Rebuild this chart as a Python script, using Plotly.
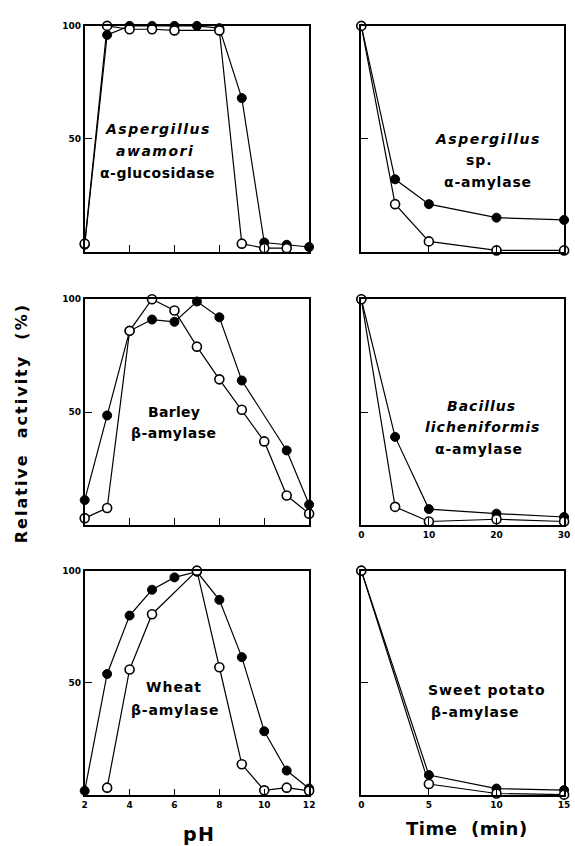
import plotly.graph_objects as go

W, H = 575, 846

# ---------------- data ----------------
# Panel A: Aspergillus awamori alpha-glucosidase (pH)
gluc_filled_ph = [2, 3, 4, 5, 6, 7, 8, 9, 10, 11, 12]
gluc_filled = [3, 96, 100, 100, 100, 100, 99, 68, 4, 3, 2]
gluc_open_ph = [2, 3, 4, 5, 6, 8, 9, 10, 11]
gluc_open = [3.5, 100, 98.5, 98.5, 98, 98, 3.5, 1.5, 1.5]

# Panel C: Barley beta-amylase (pH)
barley_filled_ph = [2, 3, 4, 5, 6, 7, 8, 9, 11, 12]
barley_filled = [11, 48.5, 86, 91, 90, 99, 92, 64, 33, 9]
barley_open_ph = [2, 3, 4, 5, 6, 7, 8, 9, 10, 11, 12]
barley_open = [3, 7.5, 86, 100, 95, 79, 64.5, 51, 37, 13, 5]

# Panel E: Wheat beta-amylase (pH)
wheat_filled_ph = [2, 3, 4, 5, 6, 7, 8, 9, 10, 11, 12]
wheat_filled = [2, 54, 80, 91.5, 97, 99.5, 87, 61.5, 28.5, 11, 3]
wheat_open_ph = [3, 4, 5, 7, 8, 9, 10, 11, 12]
wheat_open = [3.4, 56, 80.6, 100, 57, 13.8, 2.2, 3.4, 2]

# Panel B: Aspergillus sp. alpha-amylase (time)
asp_t = [0, 5, 10, 20, 30]
asp_filled = [100, 32, 21, 15, 14]
asp_open = [100, 21, 4.5, 0.5, 0.5]

# Panel D: Bacillus licheniformis alpha-amylase (time)
bac_t = [0, 5, 10, 20, 30]
bac_filled = [100, 39, 7, 5, 3.5]
bac_open = [100, 8, 1.5, 2.5, 1.5]

# Panel F: Sweet potato beta-amylase (time)
sp_t = [0, 5, 10, 15]
sp_filled = [100, 9, 3, 2.3]
sp_open = [100, 5, 0.8, 0.3]

ph_ticks = [2, 4, 6, 8, 10, 12]
y_ticks_left = [50, 100]
y_ticks_right = [50]

# ---------------- layout helpers ----------------
def fx(px):
    return px / W

def fy(py):
    return 1 - py / H

left_dom = [fx(83), fx(311)]
right_dom = [fx(364), fx(570)]
rows = [[fy(248), fy(21)], [fy(523), fy(296)], [fy(795), fy(569)]]

fig = go.Figure()

LINE_W = 1.2
MS = 9

def add_pair(xf, yf, xo, yo, axn):
    xa = "x" if axn == 1 else f"x{axn}"
    ya = "y" if axn == 1 else f"y{axn}"
    fig.add_trace(go.Scatter(
        x=xf, y=yf, mode="lines+markers", xaxis=xa, yaxis=ya,
        line=dict(color="black", width=LINE_W),
        marker=dict(symbol="circle", size=MS, color="black",
                    line=dict(color="black", width=1)),
        cliponaxis=False, showlegend=False))
    fig.add_trace(go.Scatter(
        x=xo, y=yo, mode="lines+markers", xaxis=xa, yaxis=ya,
        line=dict(color="black", width=LINE_W),
        marker=dict(symbol="circle", size=MS, color="white",
                    line=dict(color="black", width=1.6)),
        cliponaxis=False, showlegend=False))

add_pair(gluc_filled_ph, gluc_filled, gluc_open_ph, gluc_open, 1)
add_pair(asp_t, asp_filled, asp_t, asp_open, 2)
add_pair(barley_filled_ph, barley_filled, barley_open_ph, barley_open, 3)
add_pair(bac_t, bac_filled, bac_t, bac_open, 4)
add_pair(wheat_filled_ph, wheat_filled, wheat_open_ph, wheat_open, 5)
add_pair(sp_t, sp_filled, sp_t, sp_open, 6)

tickfont = dict(family="DejaVu Sans", size=9, color="black", weight="bold")
axis_common = dict(showline=True, linecolor="black", linewidth=1.6, mirror=True,
                   ticks="inside", ticklen=7, tickwidth=1.4, tickcolor="black",
                   showgrid=False, zeroline=False, tickfont=tickfont, fixedrange=True)

layout = dict(width=W, height=H, margin=dict(l=0, r=0, t=0, b=0),
              paper_bgcolor="white", plot_bgcolor="white", showlegend=False)

panels = [
    (1, left_dom, 0, [2, 12], [4, 6, 8, 10], ["", "", "", ""], y_ticks_left, ["50", "100"]),
    (2, right_dom, 0, [0, 30], [10, 20], ["", ""], y_ticks_right, [""]),
    (3, left_dom, 1, [2, 12], [4, 6, 8, 10], ["", "", "", ""], y_ticks_left, ["50", "100"]),
    (4, right_dom, 1, [0, 30], [0, 10, 20, 30], ["0", "10", "20", "30"], y_ticks_right, [""]),
    (5, left_dom, 2, [2, 12], ph_ticks, [str(v) for v in ph_ticks], y_ticks_left, ["50", "100"]),
    (6, right_dom, 2, [0, 15], [0, 5, 10, 15], ["0", "5", "10", "15"], y_ticks_right, [""]),
]

for n, xd, r, xr, xtv, xtt, ytv, ytt in panels:
    suf = "" if n == 1 else str(n)
    layout["xaxis" + suf] = dict(domain=xd, range=xr, anchor="y" + suf,
                                 tickvals=xtv, ticktext=xtt, **axis_common)
    layout["yaxis" + suf] = dict(domain=rows[r], range=[0, 100], anchor="x" + suf,
                                 tickvals=ytv, ticktext=ytt, **axis_common)

fig.update_layout(**layout)

lab_font = dict(family="DejaVu Sans", size=14, color="black", weight="bold")

def note(text, x, y, font=lab_font):
    fig.add_annotation(text=text, x=fx(x), y=fy(y), xref="paper", yref="paper",
                       showarrow=False, font=font, xanchor="center", yanchor="middle")

def sp(t, px=1):
    return f'<span style="letter-spacing:{px}px">{t}</span>'

note(sp("<i>Aspergillus</i>", 1.5), 157, 125)
note(sp("<i>awamori</i>", 1.5), 154, 147)
note(sp("α-glucosidase", 0.5), 157, 169)

note(sp("<i>Aspergillus</i>", 1.5), 493, 135)
note(sp("sp.", 1), 484, 156)
note(sp("α-amylase", 0.8), 493, 178)

note(sp("Barley", 0.3), 174, 409)
note(sp("β-amylase", 0.5), 174, 431)

note(sp("<i>Bacillus</i>", 1), 486, 403)
note(sp("<i>licheniformis</i>", 1), 487, 425)
note(sp("α-amylase", 0.8), 484, 447)

note(sp("Wheat", 1), 174, 686)
note(sp("β-amylase", 0.8), 175, 709)

note(sp("Sweet potato", 1), 492, 689)
note(sp("β-amylase", 0.8), 480, 711)

fig.add_annotation(text=sp("Relative\u00a0\u00a0activity\u00a0\u00a0(%)", 2), x=fx(19), y=fy(421),
                   xref="paper", yref="paper", showarrow=False, textangle=-90,
                   font=dict(family="DejaVu Sans", size=16, color="black", weight="bold"),
                   xanchor="center", yanchor="middle")
fig.add_annotation(text=sp("pH", 1.5), x=fx(200), y=fy(834), xref="paper", yref="paper",
                   showarrow=False, font=dict(family="DejaVu Sans", size=19, color="black", weight="bold"),
                   xanchor="center", yanchor="middle")
fig.add_annotation(text=sp("Time\u00a0\u00a0(min)", 0.5), x=fx(471), y=fy(828), xref="paper", yref="paper",
                   showarrow=False, font=dict(family="DejaVu Sans", size=18, color="black", weight="bold"),
                   xanchor="center", yanchor="middle")

fig.write_html("out.html", config={"displayModeBar": False},
               post_script="document.body.style.margin='0px';document.body.style.overflow='hidden';")
